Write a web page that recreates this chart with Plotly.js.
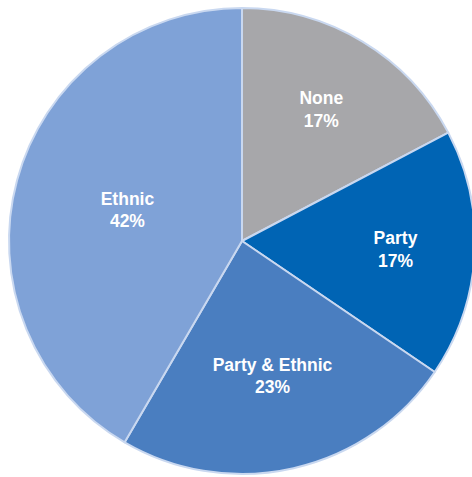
<!DOCTYPE html>
<html>
<head>
<meta charset="utf-8">
<script src="https://cdn.plot.ly/plotly-3.0.1.min.js"></script>
<style>
html, body { margin: 0; padding: 0; background: #ffffff; overflow: hidden; }
#chart { width: 478px; height: 477px; }
</style>
</head>
<body>
<div id="chart"></div>
<script>
// Data
const categories = ["None", "Party", "Party & Ethnic", "Ethnic"];
const shares = [17.3, 17.2, 23.9, 41.6];
const shareLabels = ["17%", "17%", "23%", "42%"];
const sliceColors = ["#A7A7AA", "#0064B4", "#4A7EC0", "#7FA2D7"];

const trace = {
  type: "pie",
  labels: categories,
  values: shares,
  customdata: shareLabels,
  sort: false,
  direction: "clockwise",
  rotation: 0,
  texttemplate: "%{label}<br>%{customdata}",
  textposition: "inside",
  insidetextorientation: "horizontal",
  textfont: { family: "Arial, 'Liberation Sans', sans-serif", size: 17.5, color: "#ffffff", weight: "bold" },
  hoverinfo: "label+percent",
  marker: { colors: sliceColors, line: { color: "#C9D8F0", width: 2 } },
  domain: { x: [9 / 478, 475 / 478], y: [3 / 477, 469 / 477] },
  showlegend: false
};

const layout = {
  width: 478,
  height: 477,
  margin: { l: 0, r: 0, t: 0, b: 0 },
  paper_bgcolor: "#ffffff",
  showlegend: false
};

Plotly.newPlot("chart", [trace], layout, { displayModeBar: false, staticPlot: true });
</script>
</body>
</html>
